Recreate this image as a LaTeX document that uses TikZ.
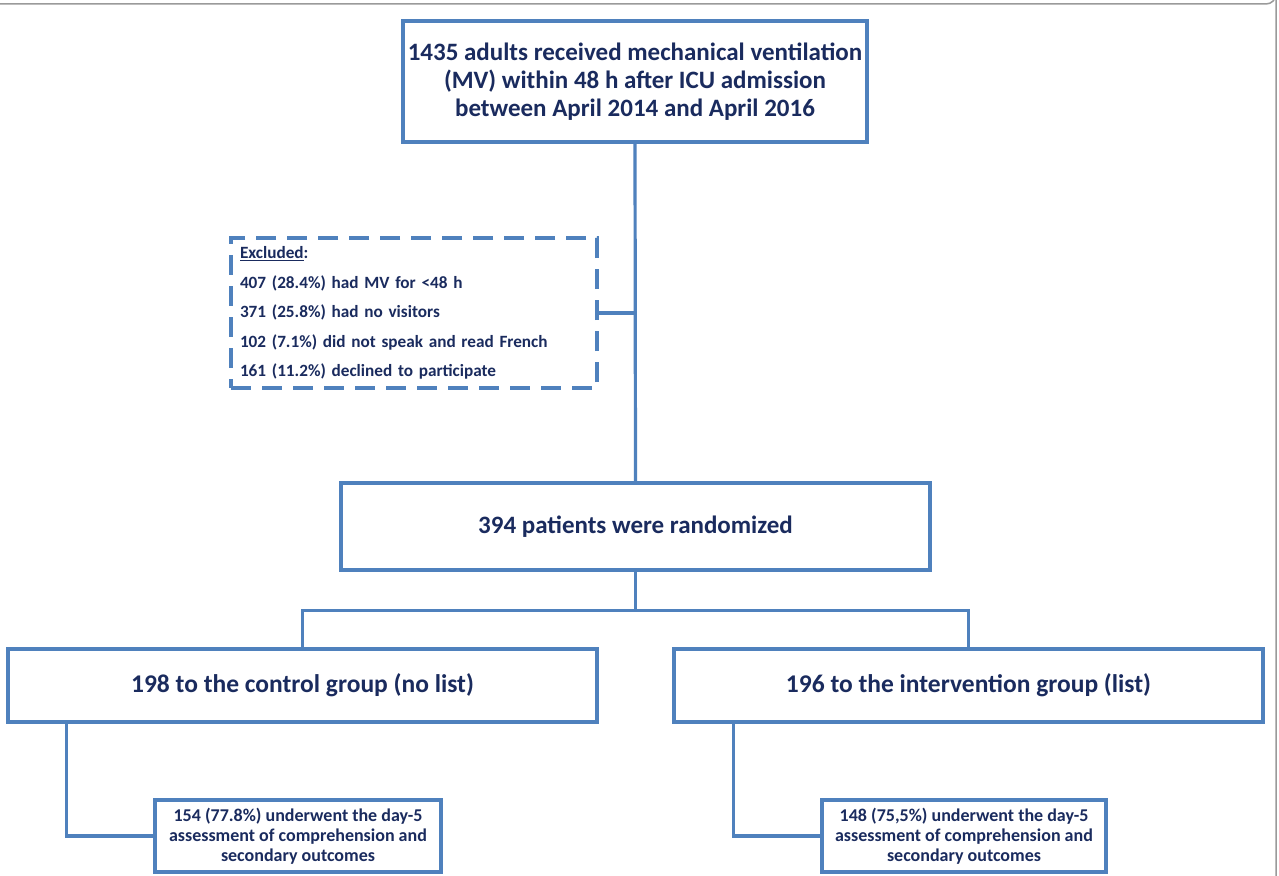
\documentclass[tikz,border=0pt]{standalone}
\usepackage{fontspec}
\setmainfont{Carlito}
\usetikzlibrary{calc}
\definecolor{boxblue}{HTML}{4F81BD}
\definecolor{txtnavy}{HTML}{1A2B5E}
\definecolor{frame}{HTML}{9A9A9A}
\begin{document}
\begin{tikzpicture}[x=1pt,y=-1pt,
  box/.style={draw=boxblue,line width=3.2pt,fill=white,inner sep=0pt,align=center,text=txtnavy,font=\bfseries},
  conn/.style={draw=boxblue,line width=3.2pt},
  dbox/.style={box,dash pattern=on 20pt off 11pt,align=left},
  ]
\useasboundingbox (0,0) rectangle (1279,875);
\fill[white] (0,0) rectangle (1279,875);
% outer frame (partly visible)
\draw[frame,line width=1.5pt] (0,4) -- (1266,4) arc[start angle=90,end angle=0,radius=10] -- (1276,876);

\node[box,minimum width=464,minimum height=121,font=\bfseries\fontsize{25}{28}\selectfont] (top) at (635,81.5)
 {1435 adults received mechanical ventilation\\(MV) within 48 h after ICU admission\\between April 2014 and April 2016};

\node[dbox,minimum width=366,minimum height=150,text width=348,font=\bfseries\fontsize{17.2}{29.5}\selectfont] (excl) at (414,313)
 {\underline{Excluded}:\\407 (28.4\%) had MV for <48 h\\371 (25.8\%) had no visitors\\102 (7.1\%) did not speak and read French\\161 (11.2\%) declined to participate};

\node[box,minimum width=589,minimum height=87,font=\bfseries\fontsize{25}{28}\selectfont] (rand) at (635.5,526.5) {394 patients were randomized};

\node[box,minimum width=589,minimum height=73,font=\bfseries\fontsize{25.5}{28}\selectfont] (ctrl) at (302.5,685.5) {198 to the control group (no list)};
\node[box,minimum width=589,minimum height=73,font=\bfseries\fontsize{25.5}{28}\selectfont] (int) at (968.5,685.5) {196 to the intervention group (list)};

\node[box,minimum width=286,minimum height=72,font=\bfseries\fontsize{18}{20}\selectfont] (bl) at (298,836)
 {154 (77.8\%) underwent the day-5\\assessment of comprehension and\\secondary outcomes};
\node[box,minimum width=284,minimum height=72,font=\bfseries\fontsize{18}{20}\selectfont] (br) at (964,836)
 {148 (75,5\%) underwent the day-5\\assessment of comprehension and\\secondary outcomes};

% connectors
\draw[conn] (top.south) -- (rand.north);
\draw[conn] (excl.east) -- (excl.east -| top.south);
\coordinate (split) at ($(rand.south)+(0,39)$);
\draw[conn] (rand.south) -- (split) -| (ctrl.north);
\draw[conn] (split) -| (int.north);
\draw[conn] ([xshift=60pt]ctrl.south west) |- (bl.west);
\draw[conn] ([xshift=61pt]int.south west) |- (br.west);
\end{tikzpicture}
\end{document}
